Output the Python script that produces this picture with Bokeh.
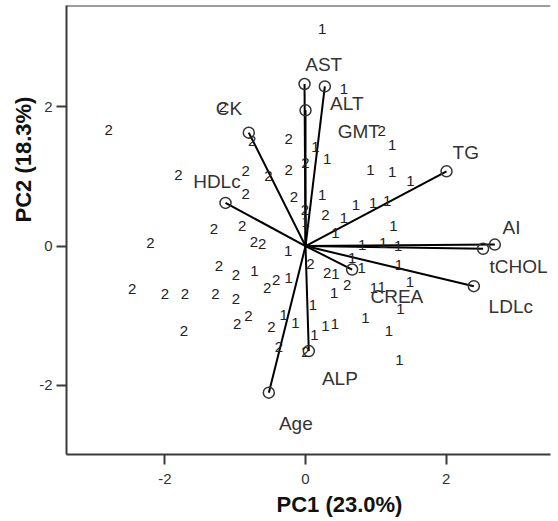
from bokeh.plotting import figure
from bokeh.models import FixedTicker, Range1d, Span, Title, ColumnDataSource
from bokeh.core.properties import value
from bokeh.embed import file_html
from bokeh.resources import INLINE

# ---- data: component scores, group "1"
g1_x = [0.236, 0.545, 1.232, 0.142, 0.307, 0.925, 1.232, 1.494, 0.236, 0.004,
        0.545, 0.718, 0.962, 1.161, 0.427, 1.252, 0.805, 1.104, 1.317, -0.248,
        0.427, 0.798, 0.663, 1.327, 1.484, 0.408, 0.972, 1.085, 1.351, 0.104,
        0.853, 0.284, 0.417, 1.185, 0.125, 1.337, -0.728, -0.238, -0.309, -0.142]
g1_y = [3.112, 2.252, 1.454, 1.425, 1.249, 1.096, 1.057, 0.931, 0.738, 0.351,
        0.404, 0.587, 0.613, 0.652, 0.189, 0.289, 0.021, 0.046, -0.003, -0.074,
        -0.401, -0.312, -0.169, -0.279, -0.516, -0.670, -0.595, -0.587, -0.910, -0.852,
        -1.029, -1.149, -1.125, -1.225, -1.282, -1.630, -0.365, -0.456, -0.996, -1.100]

# ---- data: component scores, group "2"
g2_x = [-1.176, -2.799, -0.760, -0.238, 1.085, 0.000, -0.853, -0.529, -0.238, -1.809,
        -0.853, -0.166, -0.010, 0.284, -1.304, -0.902, -0.735, -0.617, -2.205, 0.071,
        0.307, 0.592, 0.000, -1.233, -0.991, -2.467, -2.001, -1.717, -1.280, -0.991,
        -0.546, -0.418, -1.731, -0.973, -0.811, -0.484, -0.380]
g2_y = [1.999, 1.662, 1.501, 1.536, 1.655, 1.192, 1.082, 1.000, 1.096, 1.024,
        0.752, 0.698, 0.523, 0.451, 0.251, 0.294, 0.057, 0.036, 0.046, -0.254,
        -0.384, -0.552, -1.519, -0.289, -0.413, -0.619, -0.691, -0.691, -0.695, -0.766,
        -0.609, -0.480, -1.215, -1.125, -1.006, -1.168, -1.454]

# ---- data: variable loadings (vector ends) and their label positions
var_names = ["AST", "ALT", "GMT", "CK", "HDLc", "TG", "AI", "tCHOL", "LDLc", "CREA", "ALP", "Age"]
var_x = [-0.014, 0.275, 0.000, -0.807, -1.138, 2.006, 2.693, 2.526, 2.394, 0.663, 0.047, -0.522]
var_y = [2.324, 2.289, 1.946, 1.626, 0.619, 1.072, 0.021, -0.040, -0.576, -0.337, -1.507, -2.103]
lab_x = [0.259, 0.587, 0.758, -1.090, -1.260, 2.280, 2.930, 3.030, 2.920, 1.300, 0.489, -0.138]
lab_y = [2.600, 2.040, 1.640, 1.970, 0.924, 1.340, 0.265, -0.294, -0.867, -0.720, -1.900, -2.540]

x_ticks = [-2, 0, 2]
y_ticks = [-2, 0, 2]
tick_text = {-2: "-2", 0: "0", 2: "2"}
x_title = "PC1 (23.0%)"
y_title = "PC2 (18.3%)"

FONT = "Liberation Sans"
AXC = "#3a3a3a"
Y_TOP = 3.45

p = figure(frame_width=484, frame_height=449, output_backend="svg", toolbar_location=None,
           x_range=Range1d(-3.40, 3.485), y_range=Range1d(-2.99, Y_TOP),
           min_border_left=66, min_border_right=2, min_border_top=5, min_border_bottom=0,
           background_fill_color="white", border_fill_color="white")
p.outline_line_color = None
p.grid.visible = False

for ax, ticks in ((p.xaxis, x_ticks), (p.yaxis, y_ticks)):
    ax.ticker = FixedTicker(ticks=ticks)
    ax.major_label_overrides = tick_text
    ax.minor_tick_line_color = None
    ax.major_tick_in = 0
    ax.major_tick_out = 10
    ax.major_tick_line_width = 2
    ax.major_tick_line_color = AXC
    ax.axis_line_width = 2
    ax.axis_line_color = AXC
    ax.axis_label_standoff = 0
    ax.major_label_text_font = FONT
    ax.major_label_text_font_size = "15px"
    ax.major_label_text_color = "#333333"
p.xaxis.major_label_standoff = 9
p.yaxis.major_label_standoff = 4

# top border of the frame
p.add_layout(Span(location=Y_TOP, dimension="width", line_width=2, line_color=AXC))

p.add_layout(Title(text=x_title, align="left", offset=210, text_font=FONT,
                   text_font_size="22px", text_font_style="bold", text_color="#111111",
                   standoff=6), "below")
p.add_layout(Title(text=y_title, align="left", offset=232, text_font=FONT,
                   text_font_size="22px", text_font_style="bold", text_color="#111111",
                   standoff=2), "left")

# loading vectors
vsrc = ColumnDataSource(dict(x0=[0.0] * len(var_x), y0=[0.0] * len(var_y),
                             x1=var_x, y1=var_y))
p.segment(x0="x0", y0="y0", x1="x1", y1="y1", source=vsrc, line_color="black", line_width=2)
p.scatter(x=var_x, y=var_y, marker="circle", size=11, fill_color=None,
          line_color="#333333", line_width=1.5)

# score points drawn as text markers
p.text(x=g1_x, y=g1_y, text=["1"] * len(g1_x), text_font=value(FONT), text_font_size="15px",
       text_align="center", text_baseline="middle", text_color="#222222")
p.text(x=g2_x, y=g2_y, text=["2"] * len(g2_x), text_font=value(FONT), text_font_size="15px",
       text_align="center", text_baseline="middle", text_color="#222222")

# variable labels
p.text(x=lab_x, y=lab_y, text=var_names, text_font=value(FONT), text_font_size="19px",
       text_align="center", text_baseline="middle", text_color="#333333")

open("out.html", "w").write(file_html(p, INLINE))
